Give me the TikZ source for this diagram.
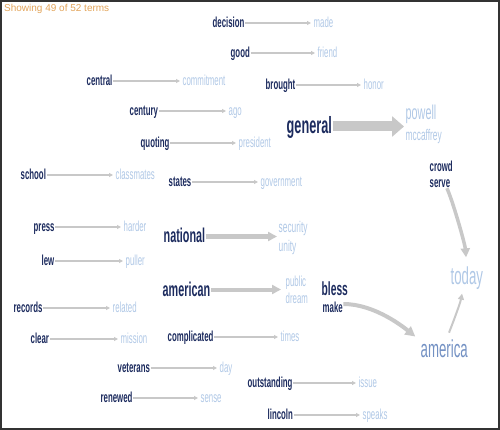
\documentclass[tikz,border=0pt]{standalone}
\usepackage{fontspec}
\usetikzlibrary{arrows.meta}

\newfontfamily\hdrfont{Liberation Sans}
\newfontfamily\condfont[FakeStretch=0.54]{Liberation Sans}

\definecolor{termdark}{HTML}{1C2B5E}
\definecolor{termlight}{HTML}{B0C8E6}
\definecolor{termmid}{HTML}{7391C3}
\definecolor{linkgray}{HTML}{C8C8C8}
\definecolor{hdrorange}{HTML}{E2A45A}

\tikzset{
  word/.style={anchor=base west, inner sep=0.5pt, text depth=0pt, text height=9pt},
  srcword/.style={word, text=termdark, font=\condfont\bfseries\fontsize{14.5}{16}\selectfont},
  tgtword/.style={word, text=termlight, font=\condfont\fontsize{14.5}{16}\selectfont},
  link/.style={draw=linkgray, line width=1.5pt, -{Triangle[length=4pt,width=4pt]}, shorten >=2pt},
}

\begin{document}
\begin{tikzpicture}[x=1pt, y=-1pt]

\useasboundingbox (0,0) rectangle (500,430);
\draw[black!80, line width=2pt] (1,1) rectangle (499,429);

\node[anchor=base west, inner sep=0pt, text=hdrorange, font=\hdrfont\fontsize{10}{12}\selectfont]
  (header) at (4,12) {Showing 49 of 52 terms};

% ============================================================
% SIMPLE PAIRS
% ============================================================
\node[srcword] (decision) at (212,27.5) {decision};
\node[tgtword] (made) at (313,27.5) {made};
\draw[link] (decision.east) -- (made.west);

\node[srcword] (good) at (230,57.5) {good};
\node[tgtword] (friend) at (317,57.5) {friend};
\draw[link] (good.east) -- (friend.west);

\node[srcword] (central) at (86,85.5) {central};
\node[tgtword] (commitment) at (182,85.5) {commitment};
\draw[link] (central.east) -- (commitment.west);

\node[srcword] (brought) at (265,89.5) {brought};
\node[tgtword] (honor) at (363,89.5) {honor};
\draw[link] (brought.east) -- (honor.west);

\node[srcword] (century) at (129,115.5) {century};
\node[tgtword] (ago) at (228,115.5) {ago};
\draw[link] (century.east) -- (ago.west);

\node[srcword] (quoting) at (140,147.5) {quoting};
\node[tgtword] (president) at (238,147.5) {president};
\draw[link] (quoting.east) -- (president.west);

\node[srcword] (school) at (20,179.5) {school};
\node[tgtword] (classmates) at (115,179.5) {classmates};
\draw[link] (school.east) -- (classmates.west);

\node[srcword] (states) at (168,186.5) {states};
\node[tgtword] (government) at (260,186.5) {government};
\draw[link] (states.east) -- (government.west);

\node[srcword] (press) at (33,231.5) {press};
\node[tgtword] (harder) at (123,231.5) {harder};
\draw[link] (press.east) -- (harder.west);

\node[srcword] (lew) at (41,265.5) {lew};
\node[tgtword] (puller) at (125,265.5) {puller};
\draw[link] (lew.east) -- (puller.west);

\node[srcword] (records) at (13,312.5) {records};
\node[tgtword] (related) at (112,312.5) {related};
\draw[link] (records.east) -- (related.west);

\node[srcword] (complicated) at (167,341.5) {complicated};
\node[tgtword] (times) at (280,341.5) {times};
\draw[link] (complicated.east) -- (times.west);

\node[srcword] (clear) at (30,343.5) {clear};
\node[tgtword] (mission) at (120,343.5) {mission};
\draw[link] (clear.east) -- (mission.west);

\node[srcword] (veterans) at (117,372.5) {veterans};
\node[tgtword] (day) at (219,372.5) {day};
\draw[link] (veterans.east) -- (day.west);

\node[srcword] (outstanding) at (247,387.5) {outstanding};
\node[tgtword] (issue) at (358,387.5) {issue};
\draw[link] (outstanding.east) -- (issue.west);

\node[srcword] (renewed) at (100,402.5) {renewed};
\node[tgtword] (sense) at (200,402.5) {sense};
\draw[link] (renewed.east) -- (sense.west);

\node[srcword] (lincoln) at (267,419.5) {lincoln};
\node[tgtword] (speaks) at (362,419.5) {speaks};
\draw[link] (lincoln.east) -- (speaks.west);

% ============================================================
% WEIGHTED PAIRS
% ============================================================
\node[srcword, font=\condfont\bfseries\fontsize{23.5}{26}\selectfont, text height=15pt]
  (general) at (286,134) {general};
\node[tgtword, font=\condfont\fontsize{20}{22}\selectfont, text height=13pt]
  (powell) at (405,120) {powell};
\node[tgtword, font=\condfont\fontsize{15.5}{17}\selectfont]
  (mccaffrey) at (405,141) {mccaffrey};
\draw[link, line width=10pt, -{Triangle[length=12pt,width=20pt]}, shorten >=1pt]
  (general.east) -- (powell.west |- general.east);

\node[srcword, font=\condfont\bfseries\fontsize{20}{22}\selectfont, text height=13pt]
  (national) at (163,243) {national};
\node[tgtword, font=\condfont\fontsize{15.5}{17}\selectfont]
  (security) at (278,232.5) {security};
\node[tgtword, font=\condfont\fontsize{15.5}{17}\selectfont]
  (unity) at (278,251.5) {unity};
\draw[link, line width=4pt, -{Triangle[length=9pt,width=9pt]}, shorten >=1pt]
  (national.east) -- (security.west |- national.east);

\node[srcword, font=\condfont\bfseries\fontsize{20}{22}\selectfont, text height=13pt]
  (american) at (162,296) {american};
\node[tgtword] (public) at (285,286.5) {public};
\node[tgtword] (dream) at (285,303.5) {dream};
\draw[link, line width=4pt, -{Triangle[length=9pt,width=9pt]}, shorten >=4pt]
  (american.east) -- (public.west |- american.east);

% ============================================================
% CHAINS TO AMERICA / TODAY
% ============================================================
\node[srcword] (crowd) at (429,172) {crowd};
\node[srcword] (serve) at (429,187.5) {serve};
\node[srcword, font=\condfont\bfseries\fontsize{19}{21}\selectfont, text height=12pt]
  (bless) at (321,295) {bless};
\node[srcword] (make) at (322,312.5) {make};

\node[tgtword, font=\condfont\fontsize{24.5}{28}\selectfont, text height=16pt, text depth=5pt]
  (today) at (450,284) {today};
\node[tgtword, text=termmid, font=\condfont\fontsize{24.5}{28}\selectfont, text height=16pt, text depth=5pt]
  (america) at (420,357) {america};

\draw[link, line width=3.5pt, -{Triangle[length=9pt,width=9pt]}, shorten >=10pt]
  ([xshift=-4pt]serve.south east) .. controls +(5,10) and +(-2,-24) .. (today.north);
\draw[link, line width=4pt, -{Triangle[length=10pt,width=10pt]}, shorten >=6pt]
  ([yshift=4pt]make.east) .. controls +(32,0) and +(-15,-12) .. (america.north west);
\draw[link, line width=2pt, -{Triangle[length=6pt,width=6pt]}, shorten <=9pt, shorten >=4pt]
  (america.north) .. controls +(5,-8) and +(-3,15) .. ([xshift=-4pt]today.south);

\end{tikzpicture}
\end{document}
